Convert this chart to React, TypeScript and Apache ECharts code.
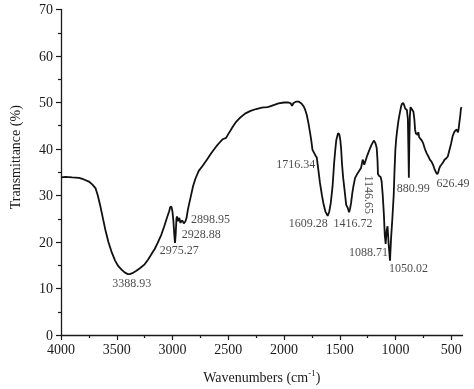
import React, { useEffect, useRef } from "react";
import * as echarts from "echarts";

// Spectrum (wavenumber in cm-1, transmittance in %)
const wavenumbers = [
  4000, 3960, 3900, 3839, 3800, 3750, 3720, 3691, 3670, 3647, 3625, 3603, 3575, 3544, 3515, 3486, 3455, 3427, 3400, 3383,
  3360, 3324, 3290, 3250, 3220, 3191, 3160, 3133, 3100, 3074, 3050, 3030, 3021, 3010, 3001, 2992, 2984, 2978, 2972, 2965,
  2960, 2951, 2939, 2929, 2918, 2909, 2899, 2885, 2874, 2862, 2850, 2839, 2816, 2795, 2765, 2733, 2692, 2650, 2600, 2574,
  2550, 2520, 2500, 2460, 2428, 2400, 2350, 2300, 2250, 2200, 2150, 2133, 2100, 2050, 2000, 1960, 1940, 1928, 1915, 1890,
  1869, 1845, 1825, 1810, 1795, 1781, 1767, 1757, 1745, 1727, 1716, 1707, 1695, 1678, 1660, 1648, 1630, 1609, 1595, 1581,
  1565, 1551, 1540, 1531, 1516, 1505, 1496, 1488, 1481, 1470, 1458, 1443, 1430, 1417, 1408, 1399, 1388, 1378, 1363, 1340,
  1310, 1295, 1287, 1281, 1265, 1251, 1230, 1216, 1200, 1193, 1180, 1169, 1162, 1158, 1147, 1134, 1125, 1115, 1105, 1097,
  1089, 1080, 1072, 1062, 1050, 1040, 1029, 1017, 1010, 1002, 995, 987, 975, 964, 950, 943, 932, 924, 914, 899,
  890, 885, 881, 877, 872, 866, 863, 855, 840, 832, 825, 817, 810, 803, 796, 789, 781, 767, 752, 737,
  722, 708, 693, 678, 664, 650, 638, 629, 620, 610, 600, 590, 575, 561, 545, 532, 517, 502, 488, 473,
  462, 452, 446, 440, 434, 429, 420, 414, 408,
];
const transmittance = [
  33.9, 34.0, 33.9, 33.8, 33.5, 33.0, 32.4, 31.6, 30.0, 27.7, 25.2, 22.7, 20.0, 17.7, 16.0, 14.8, 14.0, 13.4, 13.1, 13.1,
  13.3, 13.8, 14.4, 15.2, 16.2, 17.3, 18.5, 19.8, 21.6, 23.4, 25.2, 26.6, 27.5, 27.6, 26.6, 24.5, 21.5, 19.8, 21.5, 25.0,
  25.5, 24.5, 25.2, 24.1, 24.6, 24.5, 24.0, 24.4, 25.2, 27.0, 28.3, 29.5, 32.0, 33.6, 35.3, 36.3, 37.7, 39.2, 40.8, 41.5,
  42.1, 42.4, 43.2, 44.8, 45.9, 46.6, 47.6, 48.2, 48.6, 48.9, 49.0, 49.1, 49.4, 49.8, 50.0, 50.0, 49.8, 49.3, 49.9, 50.2,
  50.2, 49.8, 49.2, 48.4, 47.2, 45.5, 43.5, 42.0, 39.8, 39.0, 38.5, 38.2, 36.0, 32.7, 30.0, 28.4, 26.6, 25.6, 26.5, 28.4,
  32.0, 37.0, 40.0, 42.0, 43.4, 43.2, 42.0, 40.0, 37.0, 33.8, 31.3, 28.0, 27.4, 26.4, 27.2, 28.4, 30.5, 32.0, 33.8, 34.8,
  35.9, 37.7, 37.2, 36.6, 37.8, 38.8, 40.1, 40.9, 41.6, 41.8, 41.2, 40.2, 37.5, 34.6, 34.2, 34.0, 33.0, 30.0, 26.0, 21.5,
  19.6, 22.5, 23.4, 19.5, 16.0, 21.0, 25.0, 30.0, 35.0, 39.8, 42.0, 43.8, 46.0, 47.5, 49.2, 49.7, 49.9, 49.5, 48.7, 48.4,
  46.5, 40.0, 33.8, 41.0, 47.0, 49.0, 49.1, 48.6, 48.0, 46.5, 44.1, 43.2, 43.4, 43.0, 43.6, 42.6, 42.3, 41.9, 41.2, 40.0,
  39.1, 38.5, 37.7, 37.3, 36.6, 35.6, 35.0, 34.6, 34.8, 35.7, 36.3, 36.6, 37.1, 37.7, 38.0, 38.4, 39.8, 41.2, 42.8, 43.7,
  44.0, 44.2, 43.8, 43.6, 44.5, 45.5, 47.2, 48.7, 49.0,
];

// Annotated peaks
const peakWavenumbers = [3388.93, 2975.27, 2928.88, 2898.95, 1716.34, 1609.28, 1416.72, 1146.65, 1088.71, 1050.02, 880.99, 626.49];
const peakTransmittance = [13.1, 19.7, 24.1, 24.0, 38.5, 25.6, 26.4, 34.2, 19.6, 16.0, 33.8, 34.6];

// Axis ticks
const majorTickWavenumbers = [4000, 3500, 3000, 2500, 2000, 1500, 1000, 500];
const minorTickWavenumbers = [3750, 3250, 2750, 2250, 1750, 1250, 750];
const xStart = 4000;
const xEnd = 400;
const yMin = 0;
const yMax = 70;
const yStep = 10;

const FONT = "'Liberation Serif', 'Times New Roman', serif";
const INK = "#1a1a1a";

// distance from the 4000 cm-1 origin (axis runs 4000 -> 400)
const toAxis = (w: number) => xStart - w;

// label placement relative to each peak (pixels; the rotated one is in its own rotated frame)
const labelOffsets: [number, number][] = [
  [2.5, 8.5], [4, 6.7], [20.8, 11.1], [26.6, -4.9], [-20, 8.3], [-19.4, 6.9],
  [3.8, 10.6], [18.7, 10.5], [-17.2, 7.9], [18.6, 7], [4.5, 10.2], [15.7, 8.9],
];
const labelRotations = [0, 0, 0, 0, 0, 0, 0, -90, 0, 0, 0, 0];

export default function App() {
  const ref = useRef<HTMLDivElement>(null);

  useEffect(() => {
    if (!ref.current) return;
    const chart = echarts.init(ref.current, null, { renderer: "svg" });

    const lineData = wavenumbers.map((w, i) => [toAxis(w), transmittance[i]]);
    const peakData = peakWavenumbers.map((w, i) => ({
      value: [toAxis(w), peakTransmittance[i]],
      name: w.toFixed(2),
      label: {
        offset: labelOffsets[i],
        rotate: labelRotations[i],
        color: INK,
        textBorderWidth: 0,
        textBorderColor: "transparent",
      },
    }));

    chart.setOption({
      animation: false,
      backgroundColor: "#ffffff",
      grid: { left: 55, right: 11.5, top: 9.5, bottom: 53, containLabel: false },
      xAxis: [
        {
          type: "value",
          min: 0,
          max: toAxis(xEnd),
          position: "bottom",
          axisLine: { show: true, onZero: false, lineStyle: { color: INK, width: 1.3 } },
          axisTick: {
            show: true,
            length: 5,
            inside: false,
            customValues: majorTickWavenumbers.map(toAxis),
            lineStyle: { color: INK, width: 1.2 },
          },
          axisLabel: {
            show: true,
            customValues: majorTickWavenumbers.map(toAxis),
            formatter: (v: number) => String(Math.round(xStart - v)),
            fontFamily: FONT,
            fontSize: 14,
            color: INK,
            margin: 7,
          },
          splitLine: { show: false },
          name: "{n|Wavenumbers (cm}{s|-1}{n|)}",
          nameLocation: "middle",
          nameGap: 33,
          nameTextStyle: {
            fontFamily: FONT,
            color: INK,
            rich: {
              n: { fontFamily: FONT, fontSize: 14, color: INK, lineHeight: 16, verticalAlign: "bottom" },
              s: { fontFamily: FONT, fontSize: 9, color: INK, lineHeight: 16, verticalAlign: "top", padding: [0, 0, 7, 0] },
            },
          },
        },
        {
          type: "value",
          min: 0,
          max: toAxis(xEnd),
          position: "bottom",
          axisLine: { show: false, onZero: false },
          axisTick: {
            show: true,
            length: 3,
            inside: false,
            customValues: minorTickWavenumbers.map(toAxis),
            lineStyle: { color: INK, width: 1.2 },
          },
          axisLabel: { show: false },
          splitLine: { show: false },
        },
      ],
      yAxis: {
        type: "value",
        min: yMin,
        max: yMax,
        interval: yStep,
        axisLine: { show: true, onZero: false, lineStyle: { color: INK, width: 1.3 } },
        axisTick: { show: true, length: 5, inside: false, lineStyle: { color: INK, width: 1.2 } },
        minorTick: { show: true, splitNumber: 2, length: 3, lineStyle: { color: INK, width: 1.2 } },
        axisLabel: { fontFamily: FONT, fontSize: 14, color: INK, margin: 8 },
        splitLine: { show: false },
        minorSplitLine: { show: false },
        name: "Transmittance (%)",
        nameLocation: "middle",
        nameGap: 39,
        nameTextStyle: { fontFamily: FONT, fontSize: 14, color: INK, padding: [0, 0, 0, 30] },
      },
      series: [
        {
          type: "line",
          data: lineData,
          xAxisIndex: 0,
          showSymbol: false,
          symbol: "none",
          smooth: false,
          lineStyle: { color: "#111111", width: 1.8 },
          silent: true,
          z: 2,
        },
        {
          type: "scatter",
          data: peakData,
          xAxisIndex: 0,
          symbolSize: 0,
          silent: true,
          z: 3,
          itemStyle: { color: INK },
          label: {
            show: true,
            position: "inside",
            align: "center",
            verticalAlign: "middle",
            formatter: (p: any) => p.name,
            fontFamily: FONT,
            fontSize: 12,
            color: INK,
            textBorderWidth: 0,
          },
        },
      ],
    });

    return () => chart.dispose();
  }, []);

  return (
    <div
      ref={ref}
      style={{ width: 474, height: 389, position: "absolute", left: 0, top: 0, willChange: "transform" }}
    />
  );
}
